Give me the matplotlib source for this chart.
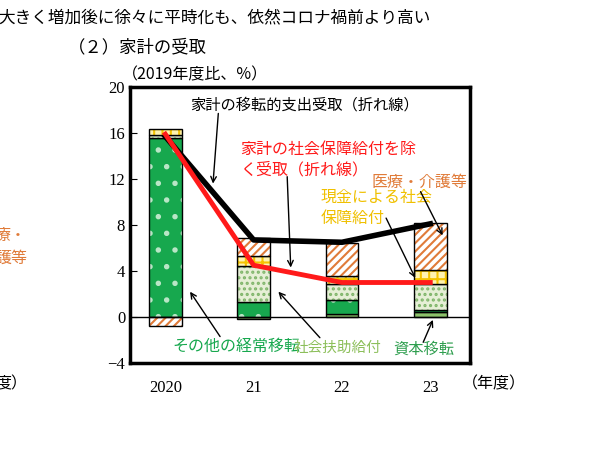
import matplotlib.pyplot as plt
import numpy as np

plt.rcParams['font.family'] = ['Noto Sans CJK JP', 'DejaVu Sans']
plt.rcParams['hatch.linewidth'] = 1.5

# ---------------- data ----------------
years = ['2020', '21', '22', '23']
capital = [0.0, -0.15, 0.26, 0.4]        # 資本移転
other = [15.56, 1.27, 1.22, 0.17]        # その他の経常移転
assist = [0.25, 3.13, 1.36, 2.29]        # 社会扶助給付
cash = [0.5, 0.93, 0.7, 1.19]            # 現金による社会保障給付
medical = [-0.75, 1.54, 2.9, 4.1]        # 医療・介護等
total = [15.7, 6.7, 6.5, 8.1]            # 家計の移転的支出受取
excl = [15.9, 4.5, 3.0, 3.0]             # 社会保障給付を除く受取

fig = plt.figure(figsize=(5.98, 4.65), dpi=100)
ax = fig.add_axes([130/598, 1-363/465, 340/598, 276/465])
x = np.arange(len(years))
w = 0.37

pos = np.zeros(4)
neg = np.zeros(4)
series = [
    (capital, '#8cc26a', None, 'white'),
    (other, '#17a84e', '.', '#b9e6c6'),
    (assist, '#e6efd6', '...', '#7fb56a'),
    (cash, '#fff3b0', '++', '#f5c400'),
    (medical, 'white', '////', '#e07b39'),
]
for vals, fc, hatch, hc in series:
    vals = np.array(vals)
    bottom = np.where(vals >= 0, pos, neg)
    ax.bar(x, vals, w, bottom=bottom, color=fc, hatch=hatch,
           edgecolor=hc, linewidth=0)
    ax.bar(x, vals, w, bottom=bottom, fill=False, edgecolor='black', linewidth=1)
    pos = np.where(vals >= 0, pos + vals, pos)
    neg = np.where(vals < 0, neg + vals, neg)

ax.plot(x, total, color='black', lw=4, zorder=5)
ax.plot(x, excl, color='#ff1a1a', lw=3.5, zorder=6)
ax.axhline(0, color='black', lw=1)

ax.set_xlim(-0.4, 3.45)
ax.set_ylim(-4, 20)
ax.set_yticks(range(-4, 21, 4))
ax.set_yticklabels(['−4', '0', '4', '8', '12', '16', '20'], fontfamily='Liberation Serif', fontsize=12)
ax.set_xticks(x)
ax.set_xticklabels(years, fontfamily='Liberation Serif', fontsize=12)
ax.tick_params(axis='x', length=0, pad=12)
ax.tick_params(axis='y', direction='in', length=5)
for s in ax.spines.values():
    s.set_linewidth(2.5)

arr = dict(arrowstyle='->', color='black', lw=1, shrinkA=0, shrinkB=0)


def label(txt, tx, ty, start, end, color='black', size=11):
    ax.text(tx, ty, txt, fontsize=size, color=color, linespacing=1.3, va='center')
    ax.annotate('', xy=end, xytext=start, arrowprops=arr, zorder=7)


label('家計の移転的支出受取（折れ線）', 0.28, 18.4, (0.6, 17.7), (0.54, 11.6), size=11)
label('家計の社会保障給付を除\nく受取（折れ線）', 0.85, 13.7, (1.38, 12.2), (1.42, 4.3),
      color='#ff1a1a', size=11.5)
label('医療・介護等', 2.34, 11.7, (2.89, 10.9), (3.14, 7.1), color='#e07b39', size=11.5)
label('現金による社会\n保障給付', 1.76, 9.5, (2.5, 8.6), (2.83, 3.4), color='#f0c000', size=11.5)
label('その他の経常移転', 0.08, -2.6, (0.62, -1.7), (0.28, 2.2), color='#17a84e', size=11.5)
label('社会扶助給付', 1.45, -2.7, (1.75, -1.8), (1.28, 2.2), color='#8cbf5a', size=10.5)
label('資本移転', 2.58, -2.8, (2.92, -2.2), (3.03, -0.25), color='#2e9e4e', size=11)

fig.text(-2/598, 1-18/465, '大きく増加後に徐々に平時化も、依然コロナ禍前より高い',
         fontsize=12, va='center', ha='left')
fig.text(68/598, 1-47/465, '（２）家計の受取', fontsize=12.5, va='center')
fig.text(122/598, 1-75/465, '（2019年度比、%）', fontsize=11.5, va='center')
fig.text(462/598, 1-384/465, '（年度）', fontsize=11.5, va='center')
fig.text(-5/598, 1-384/465, '度）', fontsize=11.5, va='center')
fig.text(-5/598, 1-247/465, '療・\n護等', fontsize=11.5, va='center', color='#e07b39',
         linespacing=1.4)

fig.savefig('out.png', dpi=100)
